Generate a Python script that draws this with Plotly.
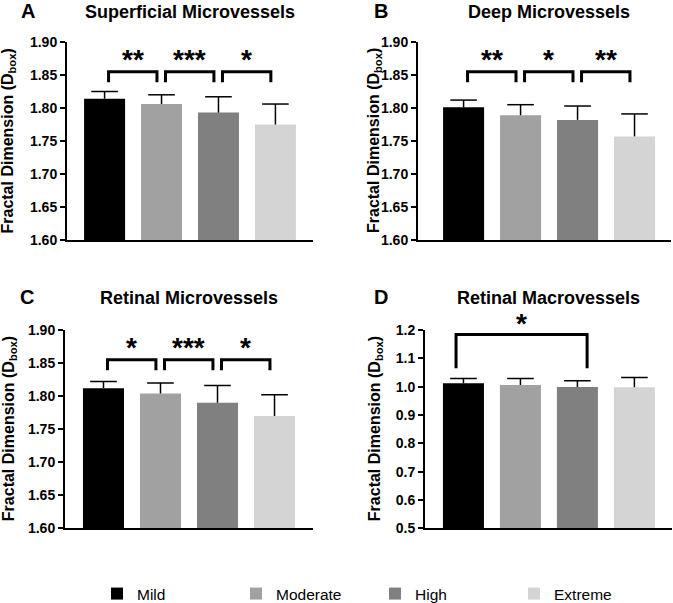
import plotly.graph_objects as go

# ---------------- data ----------------
categories = ["Mild", "Moderate", "High", "Extreme"]
colors = ["#000000", "#a1a1a1", "#808080", "#d4d4d4"]

panel_letters = ["A", "B", "C", "D"]
panel_titles = ["Superficial Microvessels", "Deep Microvessels",
                "Retinal Microvessels", "Retinal Macrovessels"]
y_title = "Fractal Dimension (D<sub>box</sub>)"

superficial_mean = [1.814, 1.806, 1.793, 1.775]
superficial_sd = [0.011, 0.014, 0.024, 0.031]

deep_mean = [1.801, 1.789, 1.782, 1.757]
deep_sd = [0.011, 0.016, 0.021, 0.034]

retinal_micro_mean = [1.812, 1.804, 1.790, 1.770]
retinal_micro_sd = [0.010, 0.016, 0.026, 0.032]

retinal_macro_mean = [1.012, 1.006, 0.999, 0.998]
retinal_macro_sd = [0.017, 0.023, 0.022, 0.034]

# significance comparisons: (group i, group j, label)
superficial_sig = [(0, 1, "**"), (1, 2, "***"), (2, 3, "*")]
deep_sig = [(0, 1, "**"), (1, 2, "*"), (2, 3, "**")]
retinal_micro_sig = [(0, 1, "*"), (1, 2, "***"), (2, 3, "*")]
retinal_macro_sig = [(0, 2, "*")]

y_ranges = [[1.60, 1.90], [1.60, 1.90], [1.60, 1.90], [0.5, 1.2]]
y_dticks = [0.05, 0.05, 0.05, 0.1]
y_formats = [".2f", ".2f", ".2f", ".1f"]

# ---------------- layout geometry (styles) ----------------
W, H = 673, 603
FONT = "Liberation Sans, Arial, Helvetica, sans-serif"

def px_x(p):
    return p / W

def px_y(p):
    return 1 - p / H

# plot-area pixel boxes: (left, right, top, bottom)
boxes = [(67, 313, 42, 240), (418, 671, 42, 240),
         (65, 313, 330, 528.3), (425, 672, 330, 528.3)]
x_ranges = [[-0.66, 3.66], [-0.80, 3.64], [-0.675, 3.675], [-0.675, 3.66]]
title_pos = [(189.5, 12), (549, 12), (189, 298), (548.5, 298)]
letter_pos = [(27.5, 11), (380.5, 11), (26.5, 297), (380.5, 297)]
ytitle_x = [8.5, 375, 9, 375]
# bracket style: top, leg bottom, star y, left pad, right pad
bracket_style = [
    (1.855, 1.839, 1.876, 0.07, -0.08),
    (1.855, 1.839, 1.876, 0.07, -0.08),
    (1.855, 1.839, 1.876, 0.07, -0.08),
    (1.184, 1.065, 1.230, -0.13, 0.17),
]

means = [superficial_mean, deep_mean, retinal_micro_mean, retinal_macro_mean]
sds = [superficial_sd, deep_sd, retinal_micro_sd, retinal_macro_sd]
sigs = [superficial_sig, deep_sig, retinal_micro_sig, retinal_macro_sig]

fig = go.Figure()
shapes = []
annotations = []

for p in range(4):
    xa = "x" if p == 0 else f"x{p + 1}"
    ya = "y" if p == 0 else f"y{p + 1}"
    m, s = means[p], sds[p]
    lo, hi = y_ranges[p]

    for c, cat in enumerate(categories):
        fig.add_trace(go.Bar(
            x=[cat], y=[m[c]], width=0.72,
            marker=dict(color=colors[c], line=dict(width=0)),
            name=cat, legendgroup=cat, showlegend=(p == 0),
            xaxis=xa, yaxis=ya, hoverinfo="x+y",
        ))

    # upper-only error bars
    sx, sy = [], []
    for c, cat in enumerate(categories):
        sx += [cat, cat, None]
        sy += [m[c], m[c] + s[c], None]
    fig.add_trace(go.Scatter(
        x=sx, y=sy, mode="lines", line=dict(color="black", width=1.5),
        showlegend=False, hoverinfo="skip", xaxis=xa, yaxis=ya))
    fig.add_trace(go.Scatter(
        x=categories, y=[m[c] + s[c] for c in range(4)], mode="markers",
        marker=dict(symbol="line-ew", size=19, color="black",
                    line=dict(width=1.5, color="black")),
        showlegend=False, hoverinfo="skip", xaxis=xa, yaxis=ya))

    # significance brackets
    top, bot, star_y, lpad, rpad = bracket_style[p]
    for (i, j, lab) in sigs[p]:
        x1, x2 = i + lpad, j + rpad
        shapes.append(dict(
            type="path", xref=xa, yref=ya,
            path=f"M{x1},{bot} L{x1},{top} L{x2},{top} L{x2},{bot}",
            line=dict(color="black", width=3), layer="above"))
        annotations.append(dict(
            x=(x1 + x2) / 2, y=(star_y - lo) / (hi - lo),
            xref=xa, yref=f"{ya} domain", text=lab,
            showarrow=False, yanchor="middle", xanchor="center", yshift=-2,
            font=dict(family=FONT, size=28, color="black", weight="bold")))

    # titles / letters / y-axis title
    l, r, t, b = boxes[p]
    tx, ty = title_pos[p]
    annotations.append(dict(
        x=px_x(tx), y=px_y(ty), xref="paper", yref="paper", text=panel_titles[p],
        showarrow=False, xanchor="center", yanchor="middle",
        font=dict(family=FONT, size=18, color="black", weight="bold")))
    lx, ly = letter_pos[p]
    annotations.append(dict(
        x=px_x(lx), y=px_y(ly), xref="paper", yref="paper", text=panel_letters[p],
        showarrow=False, xanchor="center", yanchor="middle",
        font=dict(family=FONT, size=20, color="black", weight="bold")))
    annotations.append(dict(
        x=px_x(ytitle_x[p]), y=px_y((t + b) / 2), xref="paper", yref="paper",
        text=y_title, textangle=-90, showarrow=False,
        xanchor="center", yanchor="middle",
        font=dict(family=FONT, size=16, color="black", weight="bold")))

    xkey = "xaxis" if p == 0 else f"xaxis{p + 1}"
    ykey = "yaxis" if p == 0 else f"yaxis{p + 1}"
    fig.layout[xkey] = dict(
        domain=[px_x(l), px_x(r)], anchor=ya, range=x_ranges[p],
        type="category", categoryorder="array", categoryarray=categories,
        showline=True, linecolor="black", linewidth=2, ticks="",
        showticklabels=False, showgrid=False, zeroline=False, fixedrange=True)
    fig.layout[ykey] = dict(
        domain=[px_y(b), px_y(t)], anchor=xa, range=y_ranges[p],
        dtick=y_dticks[p], tick0=0, tickformat=y_formats[p],
        showline=True, linecolor="black", linewidth=2,
        ticks="outside", ticklen=5, tickwidth=2, tickcolor="black",
        tickfont=dict(family=FONT, size=14, color="black", weight="bold"),
        showgrid=False, zeroline=False)

fig.update_layout(
    width=W, height=H,
    margin=dict(l=0, r=0, t=0, b=0, autoexpand=False),
    paper_bgcolor="white", plot_bgcolor="white",
    barmode="overlay", shapes=shapes, annotations=annotations,
    font=dict(family=FONT, color="black"),
    legend=dict(orientation="h", x=px_x(97), y=px_y(594), xanchor="left",
                yanchor="middle", entrywidth=94, entrywidthmode="pixels",
                font=dict(family=FONT, size=15.5, color="black"),
                bgcolor="rgba(0,0,0,0)", traceorder="normal"),
)

fig.write_html(
    "out.html",
    config={"displayModeBar": False},
    post_script="document.body.style.margin='0';document.body.style.overflow='hidden';",
)
